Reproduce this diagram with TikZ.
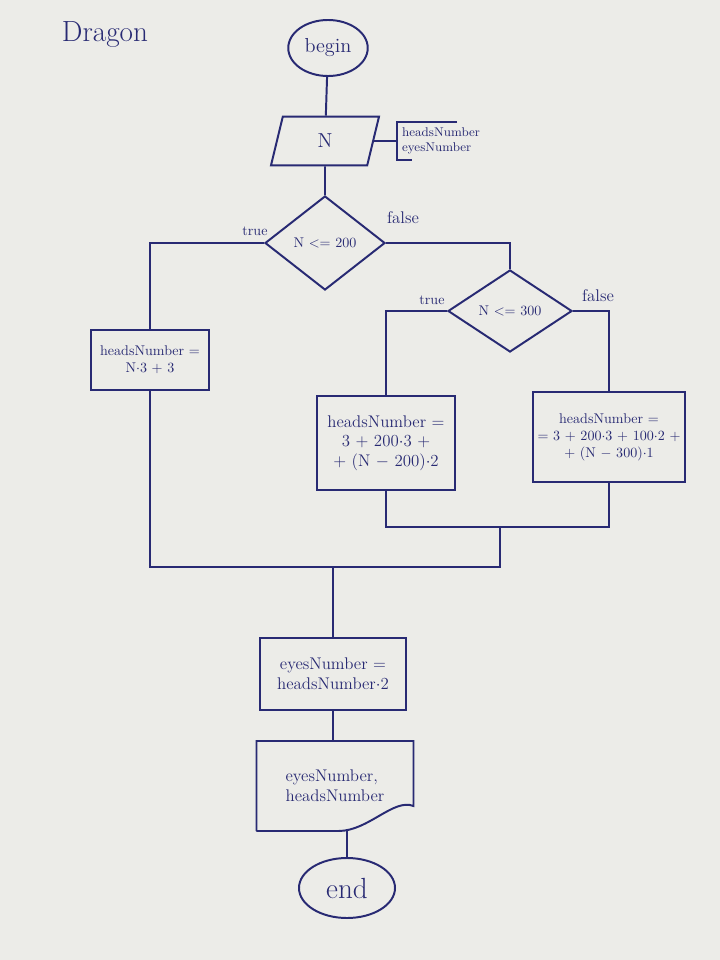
\documentclass[tikz,border=0pt]{standalone}
\usepackage{tikz}
\usetikzlibrary{positioning}
\usetikzlibrary{shapes.geometric}
\definecolor{ink}{RGB}{40,42,115}
\definecolor{paper}{RGB}{236,236,232}

\begin{document}
\begin{tikzpicture}[
  x = 0.025cm, y = -0.025cm,
  color = ink, line width = 1.4pt,
  term/.style = {draw, ellipse, font = \Large},
  io/.style = {draw, trapezium, trapezium left angle = 63, trapezium right angle = 117,
    trapezium stretches body, font = \Large},
  cond/.style = {draw, diamond, inner sep = 1pt},
  box/.style = {draw, rectangle, align = center},
  lbl/.style = {font = \normalsize}
]
\path[use as bounding box, fill = paper] (0,0) rectangle (720,960);

\node[font = \huge] (title) at (105,35) {Dragon};
\node[term, minimum width = 1.9cm, minimum height = 1.4cm] (start) at (328,48) {begin};
\node[io, minimum width = 2.7cm, minimum height = 1.22cm] (inp) at (325,141) {N};
\node[anchor = west, align = left, font = \small, inner sep = 3pt] (vars) at (397,141) {headsNumber\\eyesNumber};

\node[cond, minimum width = 3cm, minimum height = 2.35cm] (cond1) at (325,243) {N <= 200};
\node[cond, minimum width = 3.1cm, minimum height = 2.05cm] (cond2) at (510,311) {N <= 300};
\node[lbl] (true1) at (255,231) {true};
\node[lbl, font = \large] (false1) at (403,218) {false};
\node[lbl] (true2) at (432,300) {true};
\node[lbl, font = \large] (false2) at (598,296) {false};

\node[box, minimum width = 2.95cm, minimum height = 1.5cm] (heads1) at (150,360)
  {headsNumber =\\N$\cdot$3 + 3};
\node[box, minimum width = 3.45cm, minimum height = 2.35cm, font = \large] (heads2) at (386,443)
  {headsNumber =\\3 + 200$\cdot$3 +\\+ (N $-$ 200)$\cdot$2};
\node[box, minimum width = 3.7cm, minimum height = 2.25cm] (heads3) at (609,437)
  {headsNumber =\\= 3 + 200$\cdot$3 + 100$\cdot$2 +\\+ (N $-$ 300)$\cdot$1};
\node[box, minimum width = 3.65cm, minimum height = 1.8cm, font = \large] (eyes) at (333,674)
  {eyesNumber =\\headsNumber$\cdot$2};
\node[align = left, minimum width = 3.875cm, minimum height = 2.2cm, font = \large] (out) at (335,786)
  {eyesNumber,\\headsNumber};
\node[term, minimum width = 2.4cm, minimum height = 1.5cm, font = \huge] (stop) at (347,888) {end};

% joins below the branches
\coordinate (join23) at (500,527);
\coordinate (joinall) at (333,567);

\draw (start) -- (inp);
\draw (inp) -- (cond1);
\draw (inp.east) -- (vars.west);
\draw ([xshift = 1.5cm]vars.north west) -- (vars.north west) -- (vars.south west) -- ++(15,0);
\draw (cond1.west) -| (heads1.north);
\draw (cond1.east) -| (cond2.north);
\draw (cond2.west) -| (heads2.north);
\draw (cond2.east) -| (heads3.north);
\draw (heads2.south) |- (join23);
\draw (heads3.south) |- (join23);
\draw (join23) |- (joinall);
\draw (heads1.south) |- (joinall);
\draw (joinall) -- (eyes.north);
\draw (eyes.south) -- (eyes.south |- out.north);
\draw (out.south west) -- (out.north west) -- (out.north east) -- ([shift = {(0,-25)}]out.south east)
  .. controls +(-20,-8) and +(30,0) .. ([shift = {(-75,0)}]out.south east) -- (out.south west);
\draw (out.south -| stop.north) -- (stop.north);
\end{tikzpicture}
\end{document}
